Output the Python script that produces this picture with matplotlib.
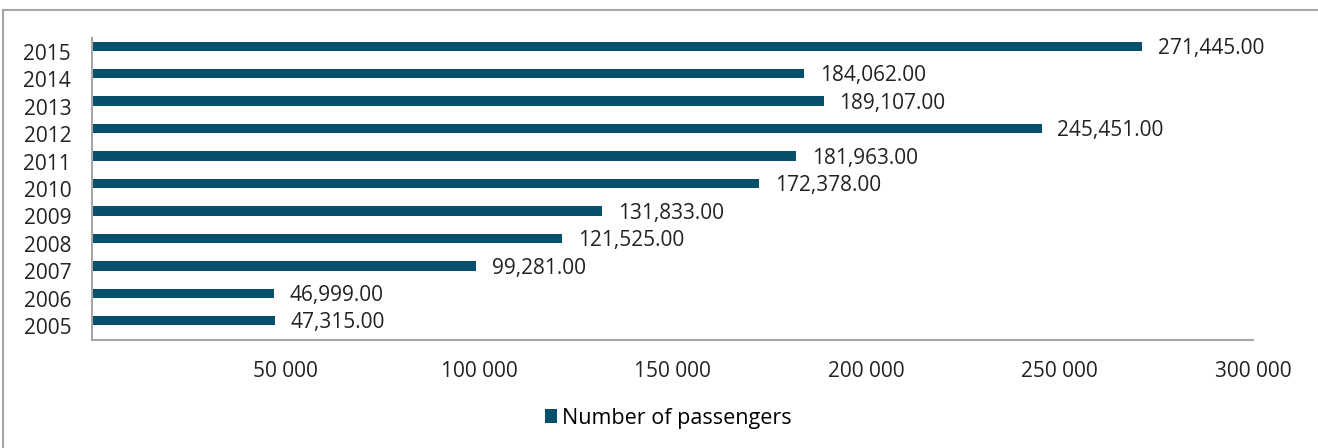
import numpy as np
import matplotlib.pyplot as plt
from matplotlib.lines import Line2D
from matplotlib.patches import Patch

# data
years = ['2005', '2006', '2007', '2008', '2009', '2010', '2011', '2012', '2013', '2014', '2015']
passengers = [47315, 46999, 99281, 121525, 131833, 172378, 181963, 245451, 189107, 184062, 271445]
xticks = [50000, 100000, 150000, 200000, 250000, 300000]

bar_color = '#07506b'
txt_color = '#222222'
fs = 15
plt.rcParams['font.family'] = ['Open Sans', 'DejaVu Sans']

fig = plt.figure(figsize=(13.18, 4.48), dpi=100)
ax = fig.add_axes([92/1318, 1 - 340/448, (1253 - 92)/1318, (340 - 38)/448])

y = np.arange(len(years))
ax.barh(y + 0.2, passengers, height=0.34, color=bar_color)
for yi, v in zip(y, passengers):
    ax.text(v + 4000, yi + 0.12, f'{v:,.2f}', va='center', ha='left', fontsize=fs, color=txt_color)

ax.set_xlim(0, 300000)
ax.set_ylim(-0.5, len(years) - 0.5)
ax.set_yticks(y)
ax.set_yticklabels(years, fontsize=fs, color=txt_color)
ax.set_xticks(xticks)
ax.set_xticklabels([f'{t:,}'.replace(',', ' ') for t in xticks], fontsize=fs, color=txt_color)
ax.tick_params(axis='both', length=0)
ax.tick_params(axis='x', pad=15)
ax.tick_params(axis='y', pad=15)
for s in ['top', 'right']:
    ax.spines[s].set_visible(False)
for s in ['left', 'bottom']:
    ax.spines[s].set_color('#a6a6a6')
    ax.spines[s].set_linewidth(1.5)

handles = [Patch(facecolor=bar_color, edgecolor='none')]
fig.legend(handles, ['Number of passengers'], loc='center', bbox_to_anchor=(668/1318, 1 - 418/448),
           frameon=False, fontsize=15.5, handlelength=0.6, handleheight=0.6, handletextpad=0.2)

# outer border (top and left)
fig.add_artist(Line2D([3/1318, 1], [1 - 10/448, 1 - 10/448], color='#a6a6a6', lw=1.5, transform=fig.transFigure))
fig.add_artist(Line2D([3/1318, 3/1318], [0, 1 - 10/448], color='#a6a6a6', lw=1.5, transform=fig.transFigure))

plt.savefig('out.png', dpi=100)
